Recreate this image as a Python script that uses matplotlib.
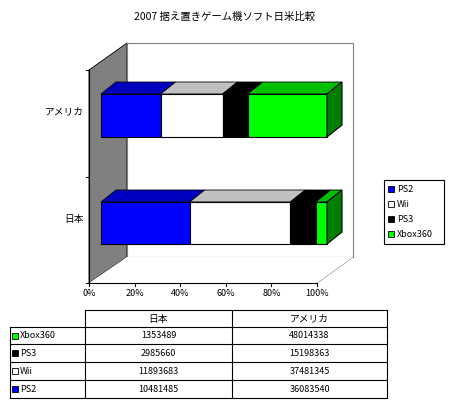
import matplotlib
matplotlib.use("Agg")
import matplotlib.pyplot as plt
from matplotlib.patches import Polygon, Rectangle

plt.rcParams['font.family'] = ['Noto Sans CJK JP', 'DejaVu Sans']

regions = ["日本", "アメリカ"]
series = ["PS2", "Wii", "PS3", "Xbox360"]
sales = {
    "PS2": [10481485, 36083540],
    "Wii": [11893683, 37481345],
    "PS3": [2985660, 15198363],
    "Xbox360": [1353489, 48014338],
}
front = {"PS2": "#0000ff", "Wii": "#ffffff", "PS3": "#000000", "Xbox360": "#00ff00"}
top = {"PS2": "#0000c0", "Wii": "#c0c0c0", "PS3": "#000000", "Xbox360": "#00c000"}
side = {"PS2": "#000080", "Wii": "#808080", "PS3": "#000000", "Xbox360": "#008000"}
ticks = ["0%", "20%", "40%", "60%", "80%", "100%"]

fig = plt.figure(figsize=(4.5, 4.11), dpi=100)
ax = fig.add_axes([0, 0, 1, 1])
ax.set_xlim(0, 450)
ax.set_ylim(411, 0)
ax.axis("off")

def poly(pts, fc, ec="black", lw=0.8, z=2, **kw):
    ax.add_patch(Polygon(pts, closed=True, fc=fc, ec=ec, lw=lw, zorder=z, **kw))

ax.text(225, 17, "2007 据え置きゲーム機ソフト日米比較", ha="center", va="center", fontsize=7.5)

# walls
poly([(89, 70), (127, 43), (127, 257), (89, 283)], "#808080", lw=0.6)
poly([(127, 43), (353, 43), (353, 257), (127, 257)], "white", ec="#808080")
poly([(89, 283), (127, 257), (353, 257), (317, 283)], "white", ec="none")
ax.plot([127, 353, 353, 317, 89], [257, 257, 257, 283, 283], color="#808080", lw=0.8, zorder=1)
ax.plot([89, 317], [283, 283], color="black", lw=0.8, zorder=3)
ax.plot([89, 89], [70, 283], color="black", lw=0.8, zorder=3)
for i, t in enumerate(ticks):
    xf = 89 + i * (317 - 89) / 5
    xb = 127 + i * (353 - 127) / 5
    if 0 < i < 5:
        ax.plot([xb, xb], [43, 257], color="black", lw=0.8, ls=(0, (4, 3)), zorder=1)
        ax.plot([xf, xb], [283, 257], color="black", lw=0.8, ls=(0, (4, 3)), zorder=1)
    ax.plot([xf, xf], [283, 286], color="black", lw=0.8)
    ax.text(xf, 293, t, ha="center", va="center", fontsize=6.5)
for yt in [70, 177, 283]:
    ax.plot([86, 89], [yt, yt], color="black", lw=0.8)

# bars
x0, w, dx, dy = 101, 226, 15, -12
bar_y = {"日本": (202, 244), "アメリカ": (94, 137)}
for j, r in enumerate(regions):
    yt, yb = bar_y[r]
    total = sum(sales[s][j] for s in series)
    cum = 0
    for s in series:
        a = x0 + w * cum / total
        cum += sales[s][j]
        b = x0 + w * cum / total
        poly([(a, yt), (a + dx, yt + dy), (b + dx, yt + dy), (b, yt)], top[s], lw=0.6, z=4)
        poly([(a, yt), (b, yt), (b, yb), (a, yb)], front[s], z=5)
    b = x0 + w
    poly([(b, yt), (b + dx, yt + dy), (b + dx, yb + dy), (b, yb)], side[series[-1]], z=5)
    ax.text(84, (yt + yb) / 2 - 4, r, ha="right", va="center", fontsize=7)

# legend
ax.add_patch(Rectangle((384, 180), 60, 64, fc="white", ec="black", lw=0.8))
for k, s in enumerate(series):
    yy = 189 + k * 15
    ax.add_patch(Rectangle((388, yy - 3), 6, 6, fc=front[s], ec="black", lw=0.6))
    ax.text(397, yy, s, ha="left", va="center", fontsize=6.5)

# data table
cols = [10, 85, 232, 387]
rows = [310, 327, 344, 362, 380, 398]
for y in rows:
    ax.plot([85 if y == rows[0] else 10, 387], [y, y], color="black", lw=0.8)
for i, x in enumerate(cols):
    ax.plot([x, x], [rows[1] if i == 0 else rows[0], rows[-1]], color="black", lw=0.8)
for j, r in enumerate(regions):
    ax.text((cols[j + 1] + cols[j + 2]) / 2, (rows[0] + rows[1]) / 2, r,
            ha="center", va="center", fontsize=7)
for k, s in enumerate(reversed(series)):
    yc = (rows[k + 1] + rows[k + 2]) / 2
    ax.add_patch(Rectangle((12, yc - 3), 6, 6, fc=front[s], ec="black", lw=0.6))
    ax.text(20, yc, s, ha="left", va="center", fontsize=6.5)
    for j in range(2):
        ax.text((cols[j + 1] + cols[j + 2]) / 2, yc, str(sales[s][j]),
                ha="center", va="center", fontsize=6.5)

fig.savefig("out.png", dpi=100)
